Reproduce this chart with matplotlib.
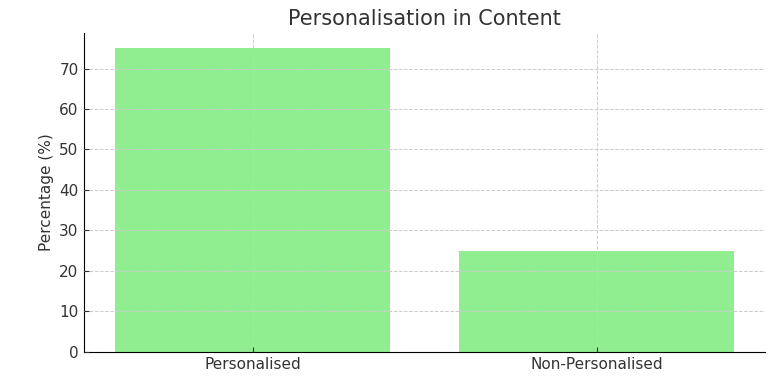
import matplotlib.pyplot as plt

# Data
categories = ['Personalised', 'Non-Personalised']
percentages = [75, 25]

fig = plt.figure(figsize=(7.72, 3.85), dpi=100)
ax = fig.add_axes([0.109, 0.086, 0.882, 0.828])

ax.bar(categories, percentages, color='lightgreen', width=0.8)

ax.set_title('Personalisation in Content', fontsize=15, color='#333333')
ax.set_ylabel('Percentage (%)', fontsize=11, color='#333333')
ax.tick_params(labelsize=11, colors='#333333', direction='in', pad=4)

ax.grid(True, linestyle='--', color='#cccccc', linewidth=0.7)
ax.set_axisbelow(False)
ax.spines['top'].set_visible(False)
ax.spines['right'].set_visible(False)

fig.savefig('out.png', dpi=100)
